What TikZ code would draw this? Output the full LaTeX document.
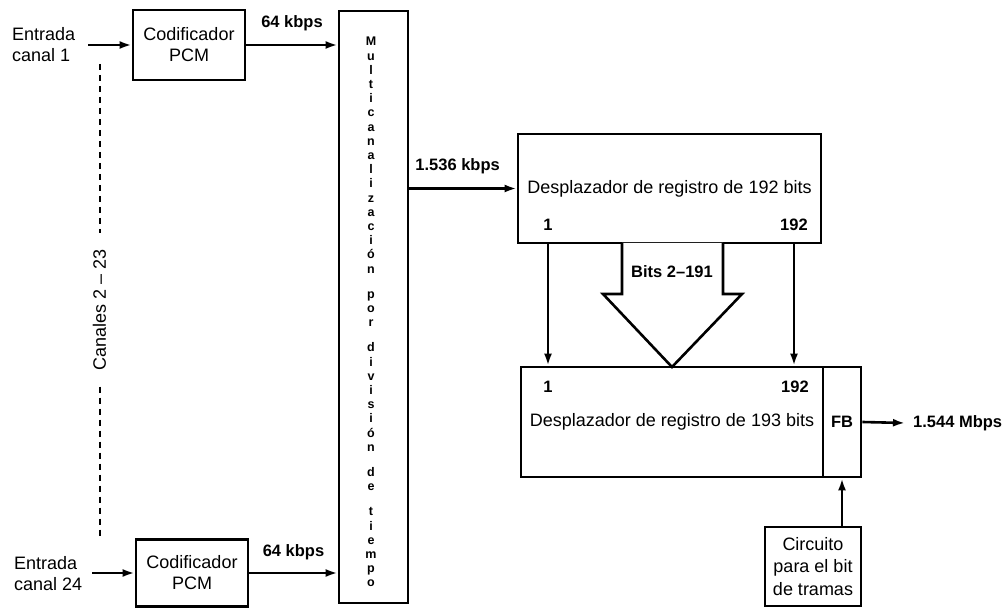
\documentclass[tikz,border=0pt]{standalone}
\usepackage{fontspec}
\setmainfont{Liberation Sans}
\usetikzlibrary{arrows.meta}

\begin{document}
\begin{tikzpicture}[x=1pt, y=-1pt,
	every node/.style={font=\fontsize{18}{21}\selectfont},
	blk/.style={draw, line width=2.8pt, align=center, inner sep=0pt},
	lbl/.style={font=\fontsize{16.5}{20}\selectfont\bfseries, inner sep=0pt},
	sig/.style={line width=2.6pt, -{Latex[length=12pt,width=8pt]}}]
	\useasboundingbox (0,0) rectangle (1006,609);
	% entradas y codificadores
	\node[align=left, anchor=west, inner sep=0pt] (inA) at (12,45) {Entrada\\canal 1};
	\node[align=left, anchor=west, inner sep=0pt] (inB) at (14,574) {Entrada\\canal 24};
	\coordinate (inAe) at (88,45);
	\coordinate (inBe) at (92,573);
	\node[blk, minimum width=112pt, minimum height=70pt] (pcmA) at (189,45) {Codificador\\PCM};
	\node[blk, minimum width=112pt, minimum height=67pt] (pcmB) at (192,573) {Codificador\\PCM};
	\draw[sig] (inAe) -- (pcmA.west);
	\draw[sig] (inBe) -- (pcmB.west);
	% canales intermedios
	\node[rotate=90, inner sep=0pt, outer sep=16pt] (can) at (99.5,310) {Canales 2 -- 23};
	\coordinate (dtop) at (99.5,64);
	\coordinate (dbot) at (99.5,540);
	\draw[line width=2pt, dash pattern=on 6pt off 5pt] (dtop) -- (can.east);
	\draw[line width=2pt, dash pattern=on 6pt off 5pt] (can.west) -- (dbot);
	% multiplexor
	\node[blk, minimum width=69pt, minimum height=592pt] (mux) at (373.5,307) {};
	\node[anchor=north, align=center, inner sep=0pt, font=\fontsize{12.5}{14.2}\selectfont\bfseries] (muxt) at (371,37)
		{M\\u\\l\\t\\i\\c\\a\\n\\a\\l\\i\\z\\a\\c\\i\\ó\\n\\[11pt]p\\o\\r\\[11pt]d\\i\\v\\i\\s\\i\\ó\\n\\[11pt]d\\e\\[11pt]t\\i\\e\\m\\p\\o};
	\draw[sig] (pcmA.east) -- (pcmA.east -| mux.west) node[lbl, midway, above=13pt] {64 kbps};
	\draw[sig] (pcmB.east) -- (pcmB.east -| mux.west) node[lbl, midway, above=12pt] {64 kbps};
	% registros
	\node[blk, minimum width=303pt, minimum height=109pt] (reg1) at (669.5,188.5) {Desplazador de registro de 192 bits};
	\node[lbl] (nA1) at (548,225) {1};
	\node[lbl] (nA192) at (794,225) {192};
	\draw[sig] (mux.east |- reg1.west) -- (reg1.west) node[lbl, pos=0.45, above=13pt] {1.536 kbps};
	\node[blk, minimum width=302pt, minimum height=110pt] (reg2) at (672,422) {Desplazador de registro de 193 bits};
	\node[blk, minimum width=38pt, minimum height=110pt, font=\fontsize{16.5}{20}\selectfont\bfseries] (fb) at (842,422) {FB};
	\node[lbl] (nB1) at (548,387) {1};
	\node[lbl] (nB192) at (795,387) {192};
	\draw[sig] (nA1 |- reg1.south) -- (nA1 |- reg2.north);
	\draw[sig] (nA192 |- reg1.south) -- (nA192 |- reg2.north);
	% flecha de bits 2-191
	\draw[line width=2.6pt, fill=white] (622,243) -- (622,294) -- (603,294) -- (672,367) -- (742,294) -- (723,294) -- (723,243);
	\node[lbl] (bits) at (672,272) {Bits 2--191};
	% salida y bit de tramas
	\coordinate (outE) at (905,423);
	\draw[sig] (fb.east) -- (outE);
	\node[lbl, anchor=west] (out) at (913,423) {1.544 Mbps};
	\node[blk, minimum width=96pt, minimum height=79pt, font=\fontsize{18}{22.5}\selectfont] (circ) at (813,566.5) {Circuito\\para el bit\\de tramas};
	\draw[sig] (fb.south |- circ.north) -- (fb.south);
\end{tikzpicture}
\end{document}
